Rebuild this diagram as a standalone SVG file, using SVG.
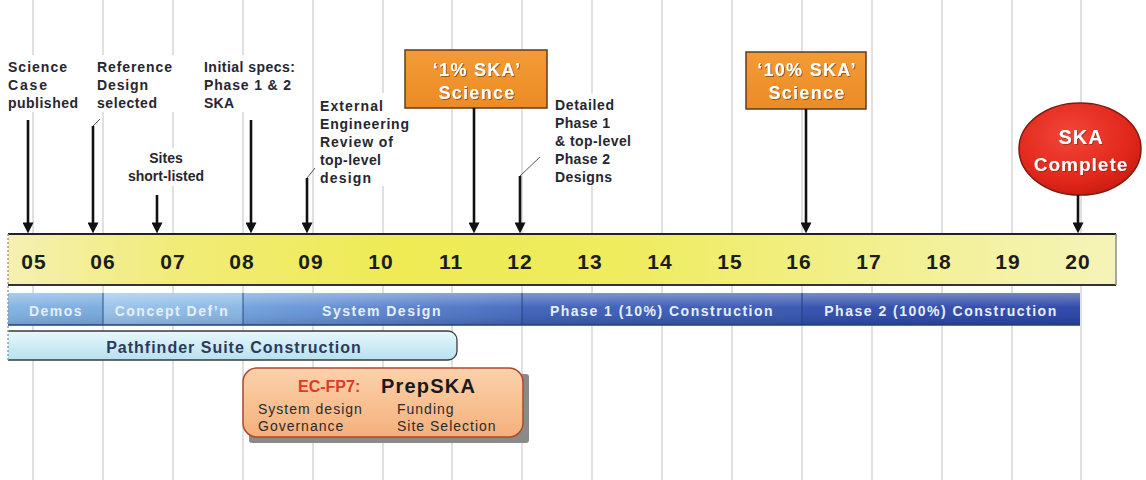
<svg xmlns="http://www.w3.org/2000/svg" width="1146" height="480" viewBox="0 0 1146 480">
<style>
text{font-family:"Liberation Sans",Arial,sans-serif}
.grid{stroke:#d6d6d6;stroke-width:1.5}
.lbl{font-size:14px;font-weight:bold;fill:#262630}
.bg{fill:#ffffff}
.yr{font-size:21px;font-weight:bold;fill:#1c1c1c;text-anchor:middle;letter-spacing:1px}
.ph{font-size:14px;font-weight:bold;fill:#e6eef9;text-anchor:middle;letter-spacing:1.5px}
.box{fill:url(#orangeG);stroke:#5e3c1c;stroke-width:1.5}
.boxt{font-size:18px;font-weight:bold;fill:#ffffff;text-anchor:middle;letter-spacing:1.3px;filter:url(#ts)}
.arr{stroke:#111;stroke-width:2.6;fill:none;marker-end:url(#ah)}
.lead{stroke:#555;stroke-width:1;fill:none}
.ec{font-size:14px;fill:#2b2b2b;letter-spacing:1px}
</style>
<defs>
<marker id="ah" viewBox="0 0 10 10" refX="6" refY="5" markerWidth="11" markerHeight="11" markerUnits="userSpaceOnUse" orient="auto">
<path d="M0,0 L10,5 L0,10 z" fill="#111"/>
</marker>
<linearGradient id="yellowG" x1="0" y1="0" x2="1" y2="0">
<stop offset="0" stop-color="#f5f0b2"/>
<stop offset="0.15" stop-color="#f1ec78"/>
<stop offset="0.35" stop-color="#eeeb55"/>
<stop offset="0.55" stop-color="#efec5e"/>
<stop offset="0.8" stop-color="#f2f092"/>
<stop offset="1" stop-color="#f5f4b8"/>
</linearGradient>
<linearGradient id="blueG" gradientUnits="userSpaceOnUse" x1="8" y1="0" x2="1080" y2="0">
<stop offset="0" stop-color="#7fb1e2"/>
<stop offset="0.0886" stop-color="#76a9de"/>
<stop offset="0.0886" stop-color="#96c2ea"/>
<stop offset="0.219" stop-color="#86b5e4"/>
<stop offset="0.219" stop-color="#6e9fdd"/>
<stop offset="0.48" stop-color="#4267bd"/>
<stop offset="0.48" stop-color="#3b5fb8"/>
<stop offset="0.742" stop-color="#3453b0"/>
<stop offset="0.742" stop-color="#2f4cad"/>
<stop offset="1" stop-color="#2842a6"/>
</linearGradient>
<linearGradient id="shineG" x1="0" y1="0" x2="0" y2="1">
<stop offset="0" stop-color="#ffffff" stop-opacity="0.35"/>
<stop offset="0.45" stop-color="#ffffff" stop-opacity="0.05"/>
<stop offset="1" stop-color="#000000" stop-opacity="0.12"/>
</linearGradient>
<linearGradient id="pathG" x1="0" y1="0" x2="0" y2="1">
<stop offset="0" stop-color="#e8f7fc"/>
<stop offset="1" stop-color="#b6e1f0"/>
</linearGradient>
<linearGradient id="orangeG" x1="0" y1="0" x2="0" y2="1">
<stop offset="0" stop-color="#f39b36"/>
<stop offset="1" stop-color="#ec8b24"/>
</linearGradient>
<linearGradient id="peachG" x1="0" y1="0" x2="0" y2="1">
<stop offset="0" stop-color="#fbd2ab"/>
<stop offset="1" stop-color="#f5b07c"/>
</linearGradient>
<radialGradient id="redG" cx="0.42" cy="0.35" r="0.7">
<stop offset="0" stop-color="#f2463a"/>
<stop offset="0.7" stop-color="#e2271b"/>
<stop offset="1" stop-color="#c91b10"/>
</radialGradient>
<filter id="ts" x="-10%" y="-20%" width="120%" height="150%">
<feDropShadow dx="1" dy="1" stdDeviation="0.6" flood-color="#5a3210" flood-opacity="0.6"/>
</filter>
</defs>
<rect width="1146" height="480" fill="#ffffff"/>
<g id="grid">
<line class="grid" x1="33" y1="0" x2="33" y2="480"/>
<line class="grid" x1="103" y1="0" x2="103" y2="480"/>
<line class="grid" x1="173" y1="0" x2="173" y2="480"/>
<line class="grid" x1="243" y1="0" x2="243" y2="480"/>
<line class="grid" x1="313" y1="0" x2="313" y2="480"/>
<line class="grid" x1="383" y1="0" x2="383" y2="480"/>
<line class="grid" x1="452" y1="0" x2="452" y2="480"/>
<line class="grid" x1="522" y1="0" x2="522" y2="480"/>
<line class="grid" x1="592" y1="0" x2="592" y2="480"/>
<line class="grid" x1="662" y1="0" x2="662" y2="480"/>
<line class="grid" x1="732" y1="0" x2="732" y2="480"/>
<line class="grid" x1="802" y1="0" x2="802" y2="480"/>
<line class="grid" x1="872" y1="0" x2="872" y2="480"/>
<line class="grid" x1="942" y1="0" x2="942" y2="480"/>
<line class="grid" x1="1012" y1="0" x2="1012" y2="480"/>
<line class="grid" x1="1081" y1="0" x2="1081" y2="480"/>
</g>
<g id="timeline">
<rect x="8" y="234" width="1108" height="51" fill="url(#yellowG)"/>
<line x1="8" y1="234" x2="1116" y2="234" stroke="#222" stroke-width="2"/>
<line x1="8" y1="285" x2="1116" y2="285" stroke="#333" stroke-width="2"/>
<line x1="1116" y1="234" x2="1116" y2="285" stroke="#8a8a8a" stroke-width="1.5"/>
<text class="yr" x="34" y="269">05</text>
<text class="yr" x="103" y="269">06</text>
<text class="yr" x="173" y="269">07</text>
<text class="yr" x="242" y="269">08</text>
<text class="yr" x="311" y="269">09</text>
<text class="yr" x="381" y="269">10</text>
<text class="yr" x="451" y="269">11</text>
<text class="yr" x="520" y="269">12</text>
<text class="yr" x="590" y="269">13</text>
<text class="yr" x="660" y="269">14</text>
<text class="yr" x="730" y="269">15</text>
<text class="yr" x="799" y="269">16</text>
<text class="yr" x="869" y="269">17</text>
<text class="yr" x="939" y="269">18</text>
<text class="yr" x="1008" y="269">19</text>
<text class="yr" x="1078" y="269">20</text>
</g>
<g id="phases">
<rect x="8" y="293" width="1072" height="32" fill="url(#blueG)"/>
<rect x="8" y="293" width="1072" height="32" fill="url(#shineG)"/>
<line x1="8" y1="325" x2="1080" y2="325" stroke="#23407a" stroke-width="1.5"/>
<line x1="103" y1="293" x2="103" y2="325" stroke="#2c4f86" stroke-width="1"/>
<line x1="243" y1="293" x2="243" y2="325" stroke="#2c4f86" stroke-width="1"/>
<line x1="522" y1="293" x2="522" y2="325" stroke="#22407e" stroke-width="1"/>
<line x1="802" y1="293" x2="802" y2="325" stroke="#1e3a78" stroke-width="1"/>
<text class="ph" x="56" y="316" fill="#dbe8f6">Demos</text>
<text class="ph" x="172" y="316">Concept Def’n</text>
<text class="ph" x="382" y="316">System Design</text>
<text class="ph" x="662" y="316">Phase 1 (10%) Construction</text>
<text class="ph" x="941" y="316">Phase 2 (100%) Construction</text>
</g>
<g id="pathfinder">
<path d="M8,331 H448 A9,9 0 0 1 457,340 V351 A9,9 0 0 1 448,360 H8 Z" fill="url(#pathG)" stroke="none"/>
<path d="M8,331 H448 A9,9 0 0 1 457,340 V351 A9,9 0 0 1 448,360 H8" fill="none" stroke="#3a3a3a" stroke-width="1.3"/>
<text x="234" y="353" font-size="16" font-weight="bold" fill="#2e3a5c" text-anchor="middle" letter-spacing="1">Pathfinder Suite Construction</text>
</g>
<line x1="8" y1="234" x2="8" y2="361" stroke="#9a9a9a" stroke-width="1.5" stroke-dasharray="2 2"/>
<g id="prepska">
<rect x="249" y="374" width="280" height="69" rx="3" fill="#8a8a8a"/>
<rect x="243" y="368" width="280" height="69" rx="14" fill="url(#peachG)" stroke="#b0482a" stroke-width="1.5"/>
<text x="298" y="392" font-size="16" font-weight="bold" fill="#e0392b">EC-FP7:</text>
<text x="381" y="393" font-size="20" font-weight="bold" fill="#1a1a1a" letter-spacing="1.2">PrepSKA</text>
<text class="ec" x="258" y="414">System design</text>
<text class="ec" x="258" y="431">Governance</text>
<text class="ec" x="397" y="414">Funding</text>
<text class="ec" x="397" y="431">Site Selection</text>
</g>
<g id="science-case">
<rect class="bg" x="5" y="55" width="78" height="57"/>
<text class="lbl" x="8" y="72" textLength="59">Science</text>
<text class="lbl" x="8" y="90" textLength="39">Case</text>
<text class="lbl" x="8" y="108" textLength="70">published</text>
</g>
<g id="reference-design">
<rect class="bg" x="94" y="55" width="82" height="57"/>
<text class="lbl" x="97" y="72" textLength="75">Reference</text>
<text class="lbl" x="97" y="90" textLength="51">Design</text>
<text class="lbl" x="97" y="108" textLength="60">selected</text>
</g>
<g id="initial-specs">
<rect class="bg" x="200" y="55" width="98" height="57"/>
<text class="lbl" x="204" y="72" textLength="91">Initial specs:</text>
<text class="lbl" x="204" y="90" textLength="87">Phase 1 &amp; 2</text>
<text class="lbl" x="204" y="108" textLength="30">SKA</text>
</g>
<g id="sites">
<rect class="bg" x="128" y="148" width="78" height="38"/>
<text class="lbl" x="166" y="163" text-anchor="middle">Sites</text>
<text class="lbl" x="166" y="181" text-anchor="middle" font-size="13.5">short-listed</text>
</g>
<g id="external-review">
<rect class="bg" x="316" y="93" width="96" height="93"/>
<text class="lbl" x="320" y="111" textLength="63">External</text>
<text class="lbl" x="320" y="129" textLength="89">Engineering</text>
<text class="lbl" x="320" y="147" textLength="73">Review of</text>
<text class="lbl" x="320" y="165" textLength="61">top-level</text>
<text class="lbl" x="320" y="183" textLength="51">design</text>
</g>
<g id="detailed-designs">
<rect class="bg" x="551" y="93" width="84" height="93"/>
<text class="lbl" x="555" y="110" textLength="59">Detailed</text>
<text class="lbl" x="555" y="128" textLength="55">Phase 1</text>
<text class="lbl" x="555" y="146" textLength="76">&amp; top-level</text>
<text class="lbl" x="555" y="164" textLength="55">Phase 2</text>
<text class="lbl" x="555" y="182" textLength="57">Designs</text>
</g>
<g id="ska-1pct">
<rect class="box" x="405" y="50" width="142" height="58"/>
<text class="boxt" x="477" y="76">‘1% SKA’</text>
<text class="boxt" x="477" y="99">Science</text>
</g>
<g id="ska-10pct">
<rect class="box" x="746" y="52" width="120" height="57"/>
<text class="boxt" x="807" y="76">‘10% SKA’</text>
<text class="boxt" x="807" y="99">Science</text>
</g>
<g id="ska-complete">
<ellipse cx="1080" cy="149" rx="61" ry="46" fill="url(#redG)" stroke="#7e1a10" stroke-width="1.5"/>
<text x="1081" y="144" font-size="20" font-weight="bold" fill="#ffffff" text-anchor="middle" letter-spacing="1" filter="url(#ts)">SKA</text>
<text x="1081" y="171" font-size="19" font-weight="bold" fill="#ffffff" text-anchor="middle" letter-spacing="1" filter="url(#ts)">Complete</text>
</g>
<g id="connectors">
<line class="arr" x1="28" y1="120" x2="28" y2="229"/>
<line class="lead" x1="93" y1="126" x2="100" y2="119"/>
<line class="arr" x1="93" y1="126" x2="93" y2="229"/>
<line class="arr" x1="157" y1="195" x2="157" y2="229"/>
<line class="arr" x1="251" y1="120" x2="251" y2="229"/>
<line class="lead" x1="307" y1="178" x2="315" y2="168"/>
<line class="arr" x1="307" y1="178" x2="307" y2="229"/>
<line class="arr" x1="474" y1="108" x2="474" y2="229"/>
<line class="lead" x1="520" y1="176" x2="540" y2="157"/>
<line class="arr" x1="520" y1="176" x2="520" y2="229"/>
<line class="arr" x1="806" y1="109" x2="806" y2="229"/>
<line class="arr" x1="1078" y1="195" x2="1078" y2="229"/>
</g>
</svg>
